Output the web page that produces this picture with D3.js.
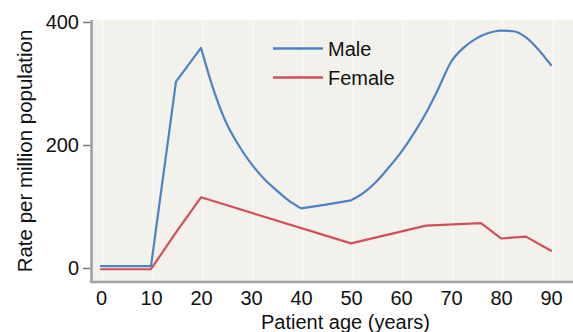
<!DOCTYPE html>
<html>
<head>
<meta charset="utf-8">
<script src="https://cdn.jsdelivr.net/npm/d3@7"></script>
<style>
  html, body { margin: 0; padding: 0; background: #ffffff; }
  svg { display: block; }
  text { font-family: "Liberation Sans", Arial, Helvetica, sans-serif; fill: #111; }
</style>
</head>
<body>
<svg id="chart" width="573" height="332"></svg>
<script>
// ---- data ----
const maleAges   = [0, 10, 15, 20, 22.5, 25, 27.5, 30, 32.5, 35, 37.5, 40, 45, 50, 52.5, 55, 57.5, 60, 62.5, 65, 67.5, 70, 72.5, 75, 77.5, 80, 82.5, 85, 87.5, 90];
const maleRates  = [3, 3, 303, 358, 290, 237, 200, 170, 146, 127, 110, 97, 103, 110, 122, 140, 163, 188, 218, 252, 292, 335, 358, 373, 382, 386, 385, 375, 355, 330];
const femaleAges  = [0, 10, 15, 20, 50, 65, 76, 80, 85, 90];
const femaleRates = [-2, -2, 58, 115, 40, 69, 73, 48, 51, 28];
// age ranges over which the male curve is smooth (corners elsewhere)
const maleSmoothRanges = [[20, 40], [50, 90]];
const seriesNames = ["Male", "Female"];
const seriesColors = ["#4c83c3", "#d24f5a"];
const xTicks = [0, 10, 20, 30, 40, 50, 60, 70, 80, 90];
const yTicks = [0, 200, 400];
const xTitle = "Patient age (years)";
const yTitle = "Rate per million population";

// ---- layout ----
const svg = d3.select("#chart");
const x = d3.scaleLinear().domain([0, 90]).range([101, 551]);
const y = d3.scaleLinear().domain([0, 400]).range([268, 22]);

// plot background
svg.append("rect")
  .attr("x", 92).attr("y", 20).attr("width", 573 - 92).attr("height", 281 - 20)
  .attr("fill", "#f2f1ec");

// faint vertical gridlines
svg.append("g").selectAll("line").data(xTicks).join("line")
  .attr("x1", d => x(d) + 2).attr("x2", d => x(d) + 2)
  .attr("y1", 20).attr("y2", 280)
  .attr("stroke", "#f7f6f3").attr("stroke-width", 2);

// y axis ticks + labels
const yAxis = d3.axisLeft(y).tickValues(yTicks).tickSize(7).tickSizeOuter(0).tickPadding(4);
const gy = svg.append("g").attr("transform", "translate(90,0)").call(yAxis);
gy.select(".domain").remove();
gy.selectAll(".tick line").attr("stroke", "#777").attr("stroke-width", 1.5);
gy.selectAll(".tick text").attr("font-size", 20).attr("fill", "#111")
  .attr("font-family", "Liberation Sans, Arial, sans-serif");

// x axis labels (no tick marks)
const xAxis = d3.axisBottom(x).tickValues(xTicks).tickSize(0).tickPadding(9);
const gx = svg.append("g").attr("transform", "translate(0,282)").call(xAxis);
gx.select(".domain").remove();
gx.selectAll(".tick text").attr("font-size", 20).attr("fill", "#111")
  .attr("font-family", "Liberation Sans, Arial, sans-serif");

// axis lines
svg.append("line").attr("x1", 91.5).attr("x2", 91.5).attr("y1", 20).attr("y2", 283)
  .attr("stroke", "#9c9c9c").attr("stroke-width", 2.5);
svg.append("line").attr("x1", 90).attr("x2", 573).attr("y1", 282).attr("y2", 282)
  .attr("stroke", "#a3a3a3").attr("stroke-width", 2.5);

// lines
const linearLine = d3.line().x(d => x(d[0])).y(d => y(d[1]));
const smoothLine = d3.line().x(d => x(d[0])).y(d => y(d[1])).curve(d3.curveMonotoneX);
const maleData = maleAges.map((a, i) => [a, maleRates[i]]);
const femaleData = femaleAges.map((a, i) => [a, femaleRates[i]]);

// split male data into linear and smooth segments
function segments(data, smoothRanges) {
  const segs = [];
  let cur = [data[0]];
  let curSmooth = smoothRanges.some(r => data[0][0] >= r[0] && data[0][0] < r[1]);
  for (let i = 1; i < data.length; i++) {
    const a0 = data[i - 1][0], a1 = data[i][0];
    const sm = smoothRanges.some(r => a0 >= r[0] && a1 <= r[1]);
    if (sm !== curSmooth) {
      segs.push({ smooth: curSmooth, pts: cur });
      cur = [data[i - 1]];
      curSmooth = sm;
    }
    cur.push(data[i]);
  }
  segs.push({ smooth: curSmooth, pts: cur });
  return segs;
}
const malePath = segments(maleData, maleSmoothRanges)
  .map((s, i) => {
    const d = (s.smooth ? smoothLine : linearLine)(s.pts);
    return i === 0 ? d : d.replace(/^M/, "L");
  }).join("");

svg.append("path")
  .attr("d", malePath)
  .attr("fill", "none")
  .attr("stroke", seriesColors[0])
  .attr("stroke-width", 2.2)
  .attr("stroke-linejoin", "round")
  .attr("stroke-linecap", "round");

svg.append("path").datum(femaleData)
  .attr("d", linearLine)
  .attr("fill", "none")
  .attr("stroke", seriesColors[1])
  .attr("stroke-width", 2.2)
  .attr("stroke-linejoin", "round")
  .attr("stroke-linecap", "round");

// legend
const legendY = [48.5, 77.5];
seriesNames.forEach((name, i) => {
  svg.append("line").attr("x1", 273).attr("x2", 323)
    .attr("y1", legendY[i]).attr("y2", legendY[i])
    .attr("stroke", seriesColors[i]).attr("stroke-width", 2.5);
  svg.append("text").attr("x", 328).attr("y", legendY[i] + 7)
    .attr("font-size", 20).text(name);
});

// axis titles
svg.append("text").attr("x", 345.5).attr("y", 329)
  .attr("text-anchor", "middle").attr("font-size", 20).text(xTitle);
svg.append("text")
  .attr("transform", "translate(31.5,151) rotate(-90)")
  .attr("text-anchor", "middle").attr("font-size", 20.5).text(yTitle);
</script>
</body>
</html>
